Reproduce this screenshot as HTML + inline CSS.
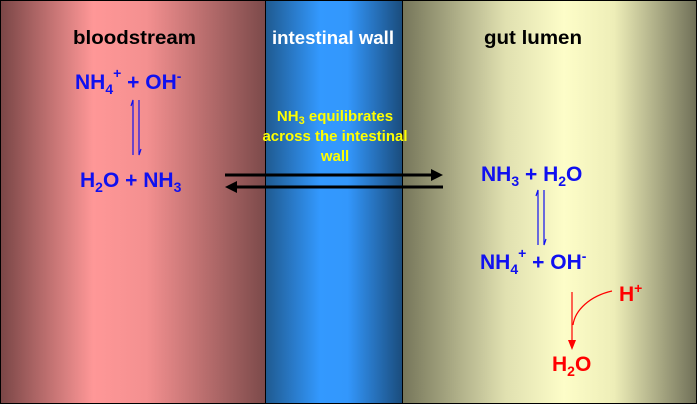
<!DOCTYPE html>
<html><head><style>body{margin:0;background:#fff}svg{display:block}text{font-family:"Liberation Sans",Arial,sans-serif;font-weight:bold}</style></head>
<body>
<svg width="700" height="407" viewBox="0 0 700 407">
<defs>
<linearGradient id="l" x1="0" x2="1"><stop offset="0" stop-color="#7a4646"/><stop offset="0.35" stop-color="#ff9797"/><stop offset="0.55" stop-color="#f49090"/><stop offset="1" stop-color="#7c4a4a"/></linearGradient>
<linearGradient id="m" x1="0" x2="1"><stop offset="0" stop-color="#1f5a90"/><stop offset="0.4" stop-color="#3399ff"/><stop offset="0.6" stop-color="#3397fc"/><stop offset="1" stop-color="#1a4c7c"/></linearGradient>
<linearGradient id="r" x1="0" x2="1"><stop offset="0" stop-color="#76765a"/><stop offset="0.35" stop-color="#e0e0b0"/><stop offset="0.55" stop-color="#fdfdc8"/><stop offset="0.72" stop-color="#eeeeb8"/><stop offset="1" stop-color="#707058"/></linearGradient>
</defs>
<rect x="0.5" y="0.5" width="265" height="403" fill="url(#l)" stroke="#000"/>
<rect x="265.5" y="0.5" width="137" height="403" fill="url(#m)" stroke="#000"/>
<rect x="402.5" y="0.5" width="294" height="403" fill="url(#r)" stroke="#000"/>
<text x="73" y="44" font-size="19" textLength="123" lengthAdjust="spacingAndGlyphs" fill="#000">bloodstream</text>
<text x="272" y="44" font-size="18" textLength="122" lengthAdjust="spacingAndGlyphs" fill="#fff">intestinal wall</text>
<text x="484" y="44" font-size="19" textLength="98" lengthAdjust="spacingAndGlyphs" fill="#000">gut lumen</text>
<g fill="#1010f0" font-size="21">
<text x="75" y="89">NH<tspan font-size="14" dy="5">4</tspan><tspan font-size="14" dy="-16">+</tspan><tspan dy="11"> + OH</tspan><tspan font-size="14" dy="-8">-</tspan></text>
<text x="80" y="187">H<tspan font-size="14" dy="5">2</tspan><tspan dy="-5">O + NH</tspan><tspan font-size="14" dy="5">3</tspan></text>
<text x="481" y="181">NH<tspan font-size="14" dy="5">3</tspan><tspan dy="-5">  + H</tspan><tspan font-size="14" dy="5">2</tspan><tspan dy="-5">O</tspan></text>
<text x="480" y="269">NH<tspan font-size="14" dy="5">4</tspan><tspan font-size="14" dy="-16">+</tspan><tspan dy="11"> + OH</tspan><tspan font-size="14" dy="-8">-</tspan></text>
</g>
<g stroke="#1010f0" stroke-width="1.2" fill="none">
<path d="M133,155V100l-2,6"/><path d="M139,100V155l2,-6"/>
<path d="M538,245V190l-2,6"/><path d="M544,190V245l2,-6"/>
</g>
<g fill="#ffff00" font-size="15" text-anchor="middle">
<text x="335" y="121">NH<tspan font-size="11" dy="3">3</tspan><tspan dy="-3"> equilibrates</tspan></text>
<text x="335" y="141">across the intestinal</text>
<text x="335" y="161">wall</text>
</g>
<line x1="225" y1="175" x2="436" y2="175" stroke="#000" stroke-width="3"/>
<path d="M431,169L443,175L431,181z" fill="#000"/>
<line x1="443" y1="187" x2="232" y2="187" stroke="#000" stroke-width="3"/>
<path d="M237,181L225,187L237,193z" fill="#000"/>
<text x="619" y="301" font-size="21" fill="red">H<tspan font-size="14" dy="-8">+</tspan></text>
<path d="M612,291C590,296 575,310 573,325" stroke="red" stroke-width="1.2" fill="none"/>
<line x1="572" y1="292" x2="572" y2="342" stroke="red" stroke-width="1.2"/>
<path d="M568,340L572,350L576,340z" fill="red"/>
<text x="552" y="371" font-size="21" fill="red">H<tspan font-size="14" dy="5">2</tspan><tspan dy="-5">O</tspan></text>
</svg>
</body></html>
